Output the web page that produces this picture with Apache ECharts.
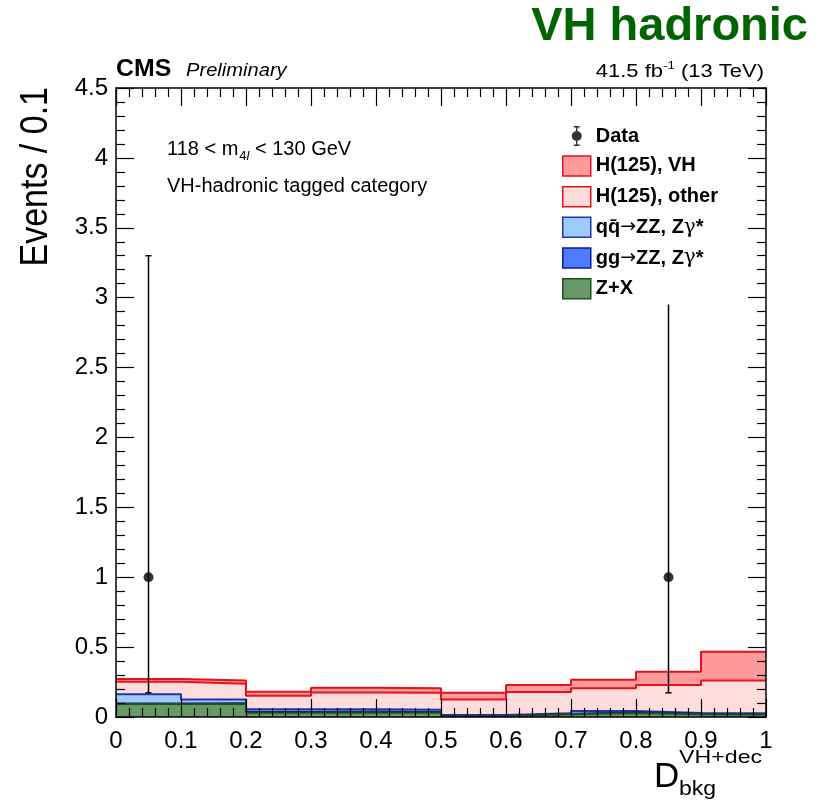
<!DOCTYPE html>
<html>
<head>
<meta charset="utf-8">
<script src="https://cdn.jsdelivr.net/npm/echarts@6/dist/echarts.min.js"></script>
<style>
html,body{margin:0;padding:0;background:#fff;}
#chart{width:831px;height:806px;}
</style>
</head>
<body>
<div id="chart"></div>
<script>
// ---- data ----
const binEdges = [0, 0.1, 0.2, 0.3, 0.4, 0.5, 0.6, 0.7, 0.8, 0.9, 1.0];
const zPlusX   = [0.093, 0.095, 0.031, 0.033, 0.031, 0.007, 0.020, 0.029, 0.019, 0.017];
const ggZZ     = [0.004, 0.004, 0.006, 0.006, 0.005, 0.002, 0.003, 0.004, 0.004, 0.003];
const qqZZ     = [0.065, 0.027, 0.018, 0.016, 0.016, 0.005, 0.004, 0.010, 0.006, 0.006];
const hOther   = [0.090, 0.112, 0.097, 0.121, 0.121, 0.112, 0.152, 0.162, 0.200, 0.236];
const hVH      = [0.020, 0.024, 0.029, 0.034, 0.032, 0.048, 0.050, 0.062, 0.095, 0.205];
const dataX    = [0.05, 0.85];
const dataY    = [1, 1];
const dataErrLo = [0.827, 0.827];
const dataErrHi = [2.30, 2.30];
const xTicks = [0, 0.1, 0.2, 0.3, 0.4, 0.5, 0.6, 0.7, 0.8, 0.9, 1];
const yTicks = [0, 0.5, 1, 1.5, 2, 2.5, 3, 3.5, 4, 4.5];

const FONT = '"Liberation Sans", Arial, Helvetica, sans-serif';

function addArr(a, b) { return a.map((v, i) => v + b[i]); }
const cZX = zPlusX.slice();
const cGG = addArr(cZX, ggZZ);
const cQQ = addArr(cGG, qqZZ);
const cOT = addArr(cQQ, hOther);
const cVH = addArr(cOT, hVH);

function stepData(arr) {
  return binEdges.map((e, i) => [e, arr[Math.min(i, arr.length - 1)]]);
}

const comps = [
  { name: 'H(125), VH',    cum: cVH, fill: '#ff9a9a', line: '#e8101a' },
  { name: 'H(125), other', cum: cOT, fill: '#ffdcdc', line: '#e8101a' },
  { name: 'q\u0071\u0304\u2192ZZ, Z\u03b3*', cum: cQQ, fill: '#9dcbfb', line: '#1d35b0' },
  { name: 'gg\u2192ZZ, Z\u03b3*', cum: cGG, fill: '#4d7cff', line: '#0a1a99' },
  { name: 'Z+X',           cum: cZX, fill: '#669966', line: '#224d22' }
];

const series = comps.map((c, k) => ({
  name: c.name,
  type: 'line',
  step: 'end',
  data: stepData(c.cum),
  showSymbol: false,
  symbol: 'none',
  z: 2 + k,
  lineStyle: { color: c.line, width: 2 },
  itemStyle: { color: c.fill, borderColor: c.line },
  areaStyle: { color: c.fill, opacity: 1 },
  animation: false,
  silent: true
}));

series.push({
  name: 'Data err',
  type: 'custom',
  z: 10,
  data: dataX.map((x, i) => [x, dataY[i] - dataErrLo[i], dataY[i] + dataErrHi[i]]),
  renderItem: function (params, api) {
    const lo = api.coord([api.value(0), api.value(1)]);
    const hi = api.coord([api.value(0), api.value(2)]);
    const st = { stroke: '#000', lineWidth: 1.5 };
    return {
      type: 'group',
      children: [
        { type: 'line', shape: { x1: lo[0], y1: lo[1], x2: hi[0], y2: hi[1] }, style: st },
        { type: 'line', shape: { x1: lo[0] - 3, y1: lo[1], x2: lo[0] + 3, y2: lo[1] }, style: st },
        { type: 'line', shape: { x1: hi[0] - 3, y1: hi[1], x2: hi[0] + 3, y2: hi[1] }, style: st }
      ]
    };
  },
  animation: false,
  silent: true
});

series.push({
  name: 'Data',
  type: 'scatter',
  z: 11,
  data: dataX.map((x, i) => [x, dataY[i]]),
  symbol: 'circle',
  symbolSize: 10,
  itemStyle: { color: '#000' },
  animation: false,
  silent: true
});

const dataIcon = 'path://M13.3,0 H14.7 V20 H13.3 Z M11,0 H17 V1.4 H11 Z M11,18.6 H17 V20 H11 Z M14,5 A5,5 0 1 1 13.99,5 Z';

const legendData = [{ name: 'Data', icon: dataIcon, itemStyle: { color: '#000', borderWidth: 0 } }]
  .concat(comps.map(c => ({
    name: c.name, icon: 'rect',
    itemStyle: { color: c.fill, borderColor: c.line, borderWidth: 1.5 }
  })));

function axisCommon(extra) {
  return Object.assign({
    axisLine: { show: true, onZero: false, lineStyle: { color: '#000', width: 1.5 } },
    axisTick: { show: true, inside: true, length: 18, lineStyle: { color: '#000', width: 1.2 } },
    minorTick: { show: true, splitNumber: 5, length: 9, lineStyle: { color: '#000', width: 1.2 } },
    splitLine: { show: false },
    minorSplitLine: { show: false },
    z: 15
  }, extra);
}

const option = {
  backgroundColor: '#fff',
  animation: false,
  grid: { left: 116, right: 65, top: 88, bottom: 89, containLabel: false },
  xAxis: [
    axisCommon({
      type: 'value', position: 'bottom', min: 0, max: 1, interval: 0.1,
      axisLabel: {
        show: true, margin: 12, color: '#000', fontFamily: FONT, fontSize: 24,
        formatter: function (v) {
          const t = xTicks.find(tv => Math.abs(tv - v) < 1e-9);
          return t === undefined ? '' : String(t);
        }
      }
    }),
    axisCommon({
      type: 'value', position: 'top', min: 0, max: 1, interval: 0.1,
      axisLabel: { show: false }
    })
  ],
  yAxis: [
    axisCommon({
      type: 'value', position: 'left', min: 0, max: 4.5, interval: 0.5,
      axisLabel: {
        show: true, margin: 8, color: '#000', fontFamily: FONT, fontSize: 24,
        formatter: function (v) {
          const t = yTicks.find(tv => Math.abs(tv - v) < 1e-9);
          return t === undefined ? '' : String(t);
        }
      }
    }),
    axisCommon({
      type: 'value', position: 'right', min: 0, max: 4.5, interval: 0.5,
      axisLabel: { show: false }
    })
  ],
  legend: {
    orient: 'vertical',
    left: 554, top: 116,
    padding: [10, 20, 5, 8],
    itemWidth: 28, itemHeight: 20, itemGap: 9.2,
    backgroundColor: '#fff',
    z: 20,
    selectedMode: false,
    formatter: function (name) {
      return '{b|' + name.replace('\u2192', '}{ar|\u2192}{b|').replace('\u03b3', '}{g|\u03b3}{b|') + '}';
    },
    textStyle: {
      fontFamily: FONT, fontSize: 20, fontWeight: 'bold', color: '#000',
      rich: {
        b: { fontFamily: FONT, fontSize: 20, fontWeight: 'bold', color: '#000' },
        ar: { fontFamily: '"DejaVu Sans", sans-serif', fontSize: 19, fontWeight: 'normal', color: '#000' },
        g: { fontFamily: '"DejaVu Serif", "DejaVu Sans", serif', fontSize: 20, fontWeight: 'normal', color: '#000' }
      }
    },
    data: legendData
  },
  graphic: [
    { type: 'text', x: 808, y: 27, z: 30,
      style: { text: 'VH hadronic', fill: '#006400', font: 'bold 47px ' + FONT, textAlign: 'right', textVerticalAlign: 'middle' } },
    { type: 'text', x: 116, y: 70, z: 30, scaleX: 1.08,
      style: { text: 'CMS', fill: '#000', font: 'bold 23px ' + FONT, textAlign: 'left', textVerticalAlign: 'middle' } },
    { type: 'text', x: 186, y: 71, z: 30, scaleX: 1.15,
      style: { text: 'Preliminary', fill: '#000', font: 'italic 17.5px ' + FONT, textAlign: 'left', textVerticalAlign: 'middle' } },
    { type: 'text', x: 764, y: 71, z: 30, scaleX: 1.22,
      style: {
        text: '{a|41.5 fb}{s|-1}{a| (13 TeV)}', textAlign: 'right', textVerticalAlign: 'middle',
        rich: {
          a: { fontFamily: FONT, fontSize: 18, color: '#000', lineHeight: 21, verticalAlign: 'bottom' },
          s: { fontFamily: FONT, fontSize: 11, color: '#000', lineHeight: 11, verticalAlign: 'top' }
        }
      } },
    { type: 'text', x: 167, y: 151, z: 30,
      style: {
        text: '{a|118 < m}{s|4}{i|l}{a| < 130 GeV}', textAlign: 'left', textVerticalAlign: 'middle',
        rich: {
          a: { fontFamily: FONT, fontSize: 20, color: '#000', lineHeight: 24, verticalAlign: 'top' },
          s: { fontFamily: FONT, fontSize: 13, color: '#000', lineHeight: 13, verticalAlign: 'bottom', padding: [0, 0, 0, 1] },
          i: { fontFamily: FONT, fontSize: 13, fontStyle: 'italic', color: '#000', lineHeight: 13, verticalAlign: 'bottom' }
        }
      } },
    { type: 'text', x: 167, y: 186, z: 30,
      style: { text: 'VH-hadronic tagged category', fill: '#000', font: '20px ' + FONT, textAlign: 'left', textVerticalAlign: 'middle' } },
    { type: 'text', x: 36, y: 87, z: 30, rotation: Math.PI / 2, scaleY: 1.15,
      style: { text: 'Events / 0.1', fill: '#000', font: '34px ' + FONT, textAlign: 'right', textVerticalAlign: 'middle' } },
    { type: 'text', x: 654, y: 777, z: 30,
      style: { text: 'D', fill: '#000', font: '35px ' + FONT, textAlign: 'left', textVerticalAlign: 'middle' } },
    { type: 'text', x: 679, y: 758, z: 30, scaleX: 1.22,
      style: { text: 'VH+dec', fill: '#000', font: '19px ' + FONT, textAlign: 'left', textVerticalAlign: 'middle' } },
    { type: 'text', x: 679, y: 789, z: 30, scaleX: 1.15,
      style: { text: 'bkg', fill: '#000', font: '20px ' + FONT, textAlign: 'left', textVerticalAlign: 'middle' } }
  ],
  series: series
};

const chart = echarts.init(document.getElementById('chart'), null, { renderer: 'canvas' });
chart.setOption(option);
</script>
</body>
</html>
